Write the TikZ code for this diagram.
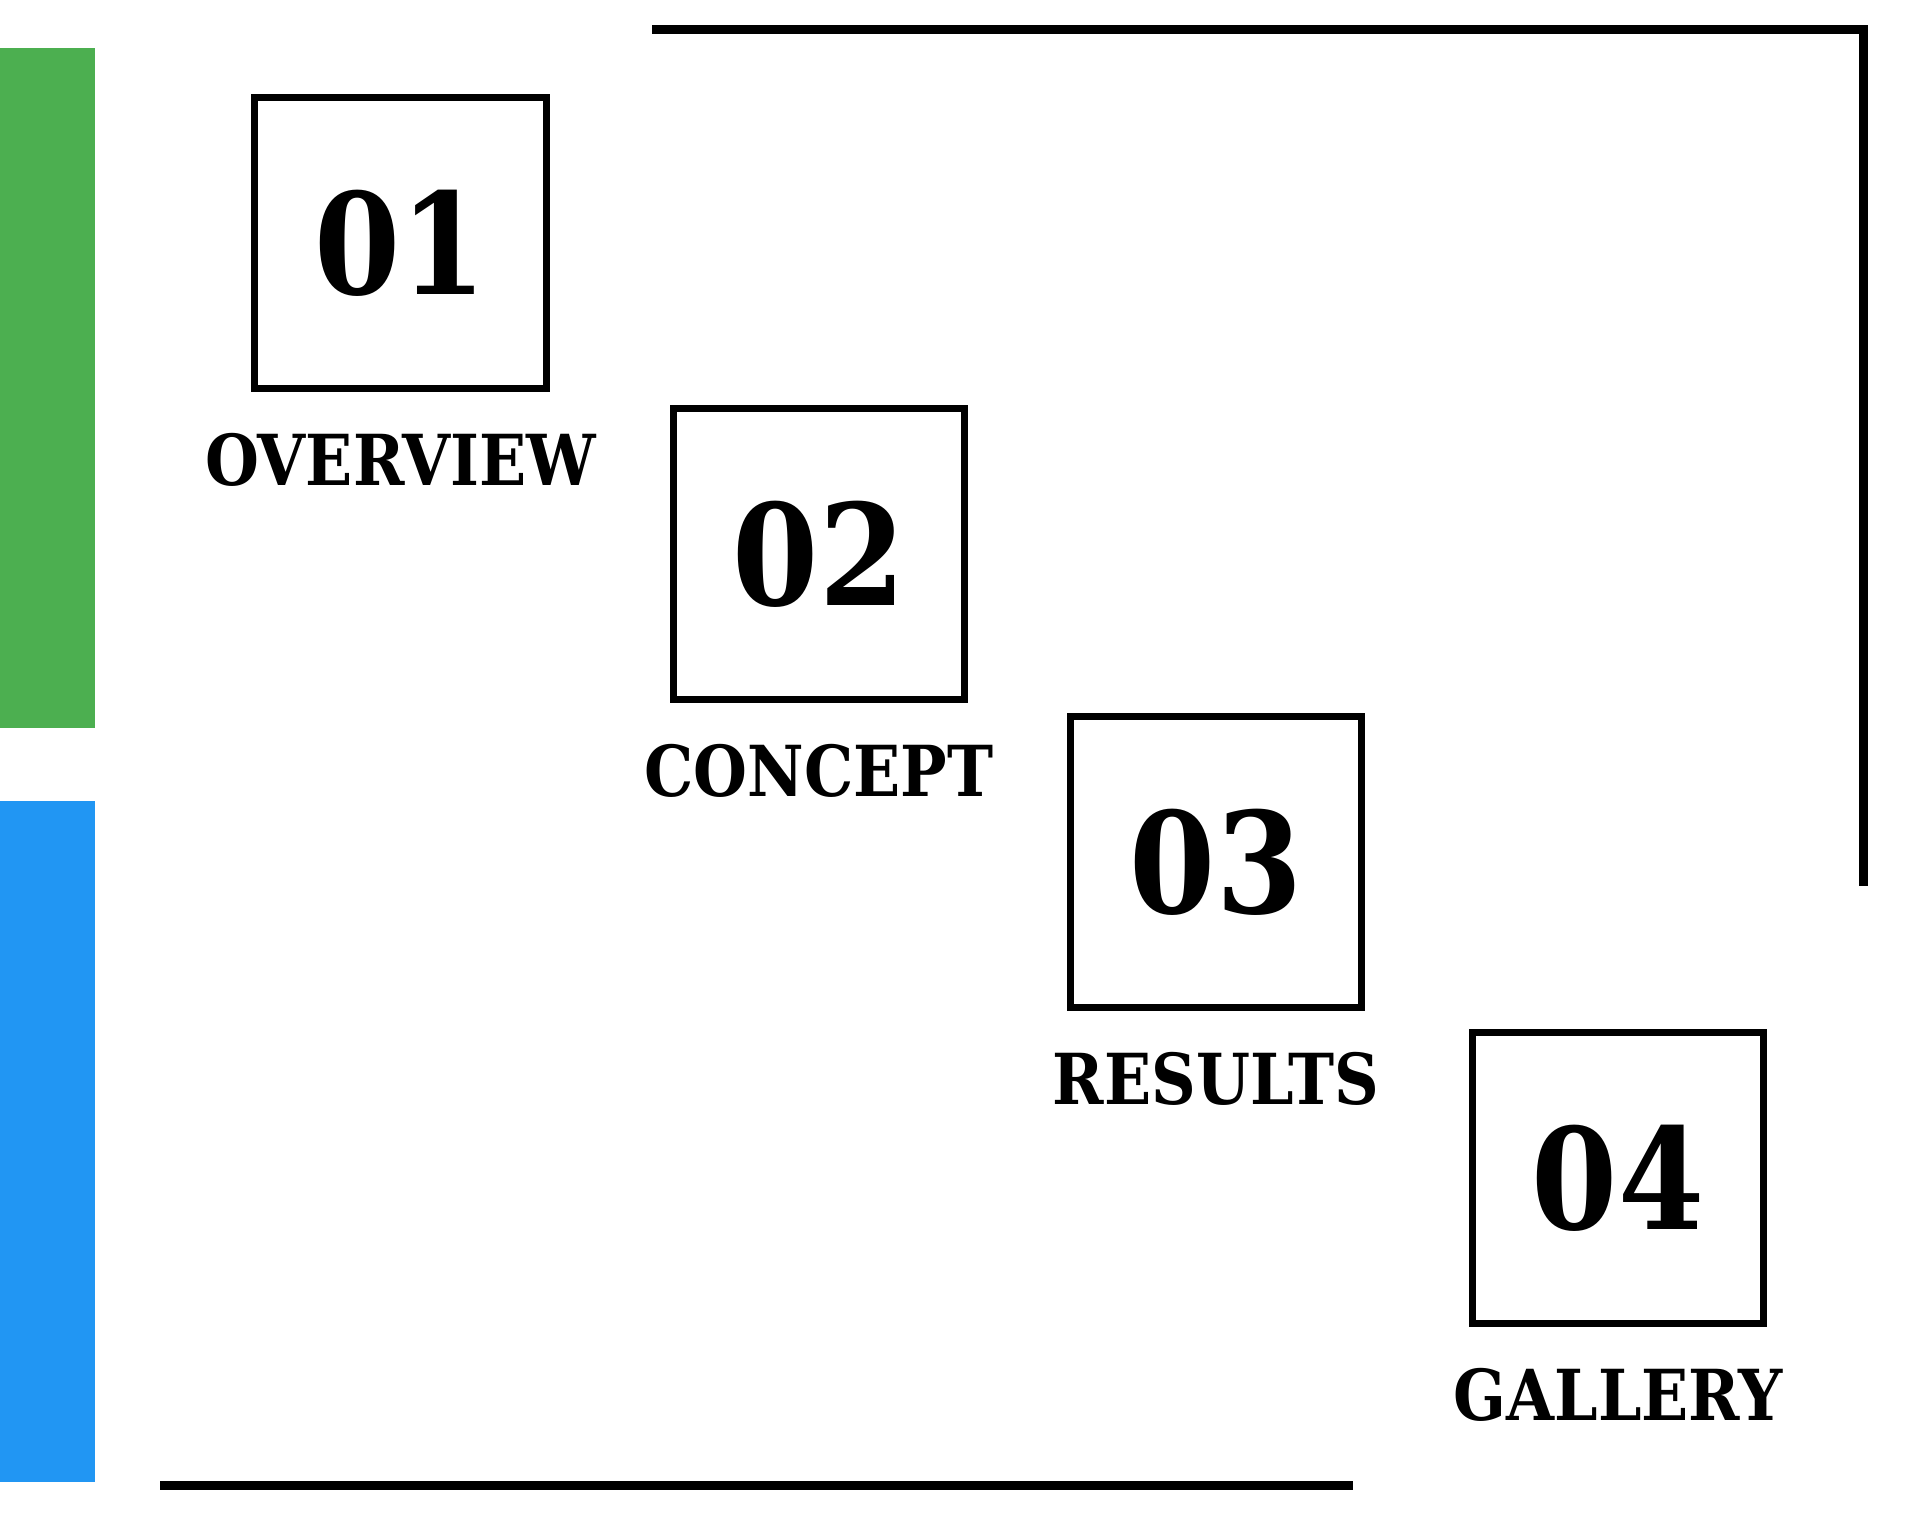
\documentclass[tikz,border=0pt]{standalone}
\usepackage{fontspec}
\newfontfamily\cardfont[FakeStretch=0.88]{DejaVu Serif}
\usetikzlibrary{positioning}
\definecolor{sidegreen}{HTML}{4CAF50}
\definecolor{sideblue}{HTML}{2196F3}

\begin{document}
\begin{tikzpicture}[x=0.01cm, y=-0.01cm,
  card/.style={draw, line width=0.07cm, minimum size=2.91cm, inner sep=0pt,
    font=\cardfont\bfseries\fontsize{40}{40}\selectfont},
  cardlabel/.style={inner sep=0pt, font=\cardfont\bfseries\fontsize{20}{24}\selectfont},
  rule/.style={line width=0.09cm}]
\useasboundingbox (0,0) rectangle (1920,1518);

% Barras laterais
\fill[sidegreen] (0,48) rectangle (95,728);
\fill[sideblue] (0,801) rectangle (95,1482);

% Moldura
\coordinate (TL) at (652,29.7);
\coordinate (TR) at (1863.5,29.7);
\coordinate (RB) at (1863.5,886);
\draw[rule] (TL) -- (TR) -- (RB);

\coordinate (BL) at (160,1485.5);
\coordinate (BR) at (1353,1485.5);
\draw[rule] (BL) -- (BR);

% Caixas numeradas e rótulos
\foreach \num/\name/\x/\y in {01/OVERVIEW/400.5/243, 02/CONCEPT/819/554, 03/RESULTS/1216/862, 04/GALLERY/1618/1178} {
    \node[card] (box\num) at (\x,\y) {\num};
    \node[cardlabel, below=0.40cm of box\num] (label\num) {\name};
}
\end{tikzpicture}
\end{document}
